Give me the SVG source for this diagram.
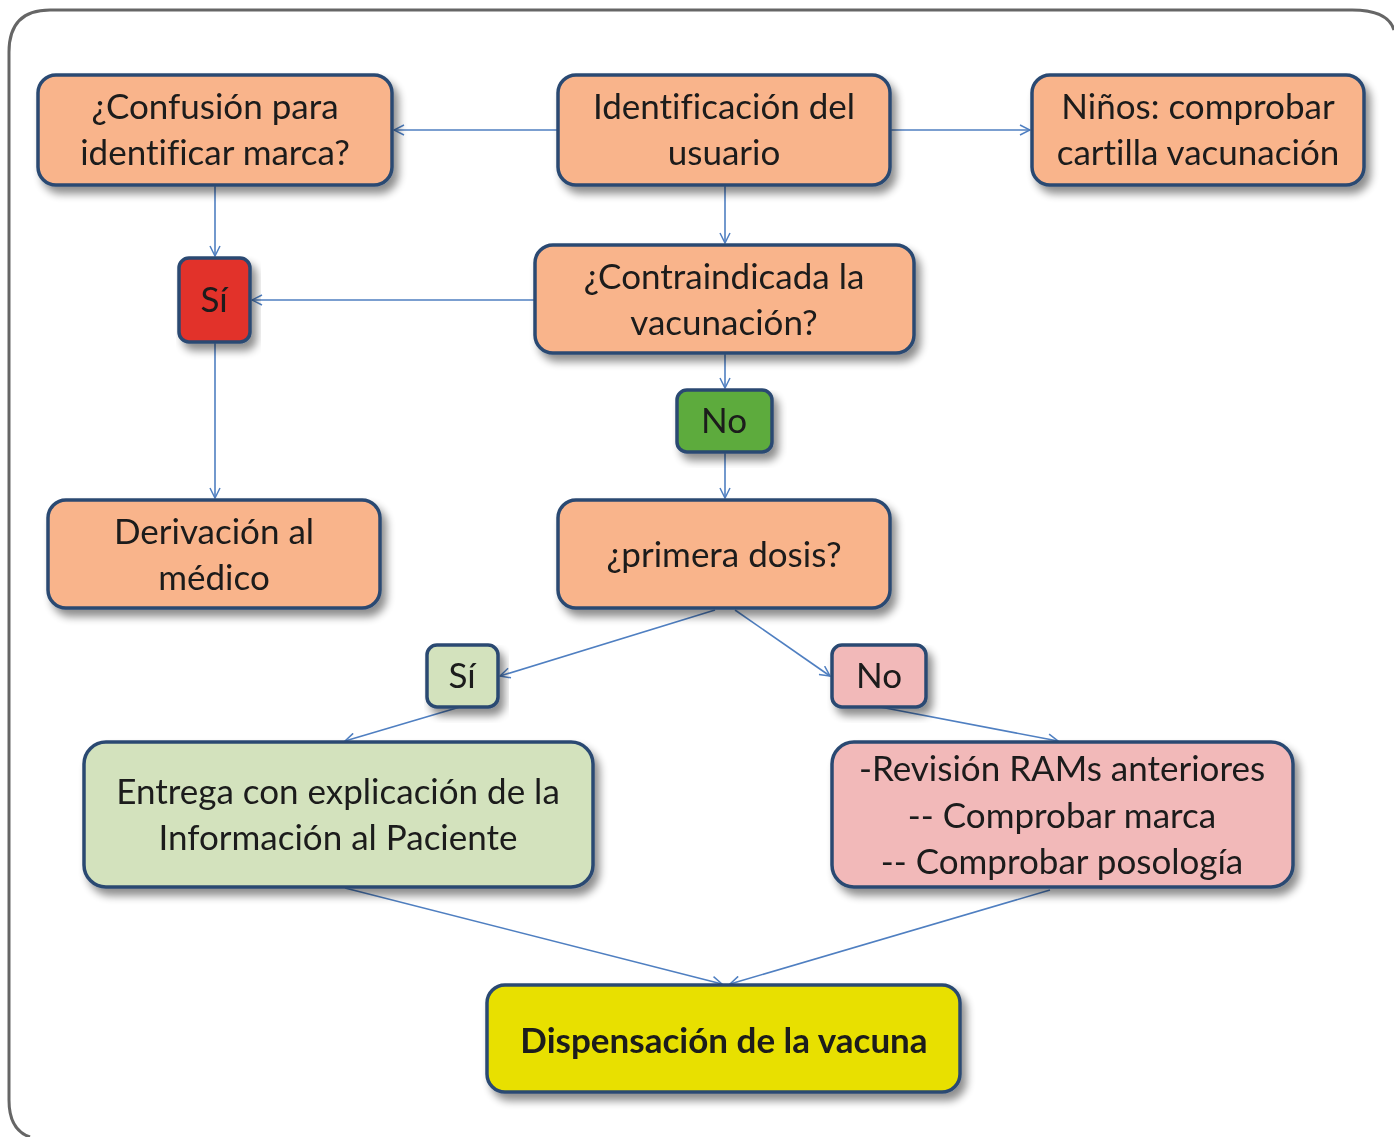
<svg xmlns="http://www.w3.org/2000/svg" width="1394" height="1137" viewBox="0 0 1394 1137">
<defs>
<style>
.t{font-family:Lato,"Open Sans","Liberation Sans",sans-serif;font-size:35px;fill:#1a1a1a;text-anchor:middle;font-variant-ligatures:none}
.b{stroke:#2b4a72;stroke-width:3.5}
.or{fill:#f9b48b}
.c{stroke:#4f7fc1;stroke-width:1.6;fill:none;marker-end:url(#ar)}
</style>
<marker id="ar" viewBox="0 0 12 12" refX="11" refY="6" markerWidth="12" markerHeight="12" markerUnits="userSpaceOnUse" orient="auto">
<path d="M1,1 L11,6 L1,11" fill="none" stroke="#4f7fc1" stroke-width="1.5"/>
</marker>
<filter id="sh" x="-10%" y="-10%" width="125%" height="135%">
<feGaussianBlur in="SourceAlpha" stdDeviation="4"/>
<feOffset dx="5" dy="7" result="o"/>
<feComponentTransfer><feFuncA type="linear" slope="0.45"/></feComponentTransfer>
<feMerge><feMergeNode/><feMergeNode in="SourceGraphic"/></feMerge>
</filter>
</defs>
<rect width="1394" height="1137" fill="#ffffff"/>
<path d="M30,1137 Q9,1130 9,1100 L9,52 Q9,10 50,10 L1352,10 Q1388,10 1394,30" fill="none" stroke="#666" stroke-width="3"/>

<g id="connectors">
<path class="c" d="M557,130 L394,130"/>
<path class="c" d="M890,130 L1030,130"/>
<path class="c" d="M725,185 L725,243"/>
<path class="c" d="M215,185 L215,256"/>
<path class="c" d="M535,300 L252,300"/>
<path class="c" d="M215,342 L215,498"/>
<path class="c" d="M725,353 L725,388"/>
<path class="c" d="M725,452 L725,498"/>
<path class="c" d="M715,610 L500,676"/>
<path class="c" d="M735,610 L830,676"/>
<path class="c" d="M460,707 L345,741"/>
<path class="c" d="M880,707 L1058,741"/>
<path class="c" d="M345,888 L722,984"/>
<path class="c" d="M1050,890 L730,984"/>
</g>

<g id="n-confusion" filter="url(#sh)">
<rect class="b or" x="38" y="75" width="354" height="110" rx="18"/>
<text class="t" x="215" y="119">¿Confusión para</text>
<text class="t" x="215" y="165">identificar marca?</text>
</g>
<g id="n-identificacion" filter="url(#sh)">
<rect class="b or" x="558" y="75" width="332" height="110" rx="18"/>
<text class="t" x="724" y="119">Identificación del</text>
<text class="t" x="724" y="165">usuario</text>
</g>
<g id="n-ninos" filter="url(#sh)">
<rect class="b or" x="1032" y="75" width="332" height="110" rx="18"/>
<text class="t" x="1198" y="119">Niños: comprobar</text>
<text class="t" x="1198" y="165">cartilla vacunación</text>
</g>
<g id="n-si-rojo" filter="url(#sh)">
<rect class="b" fill="#e2302a" x="179" y="258" width="71" height="84" rx="10"/>
<text class="t" x="214" y="312">Sí</text>
</g>
<g id="n-contraindicada" filter="url(#sh)">
<rect class="b or" x="535" y="245" width="379" height="108" rx="18"/>
<text class="t" x="724" y="289">¿Contraindicada la</text>
<text class="t" x="724" y="335">vacunación?</text>
</g>
<g id="n-no-verde" filter="url(#sh)">
<rect class="b" fill="#5dab3d" x="677" y="390" width="95" height="62" rx="10"/>
<text class="t" x="724" y="433">No</text>
</g>
<g id="n-derivacion" filter="url(#sh)">
<rect class="b or" x="48" y="500" width="332" height="108" rx="18"/>
<text class="t" x="214" y="544">Derivación al</text>
<text class="t" x="214" y="590">médico</text>
</g>
<g id="n-primera" filter="url(#sh)">
<rect class="b or" x="558" y="500" width="332" height="108" rx="18"/>
<text class="t" x="724" y="567">¿primera dosis?</text>
</g>
<g id="n-si-verde" filter="url(#sh)">
<rect class="b" fill="#d3e2bd" x="427" y="645" width="71" height="62" rx="10"/>
<text class="t" x="462" y="688">Sí</text>
</g>
<g id="n-no-rosa" filter="url(#sh)">
<rect class="b" fill="#f2b9b9" x="832" y="645" width="94" height="62" rx="10"/>
<text class="t" x="879" y="688">No</text>
</g>
<g id="n-entrega" filter="url(#sh)">
<rect class="b" fill="#d3e2bd" x="84" y="742" width="509" height="145" rx="22"/>
<text class="t" x="338" y="804">Entrega con explicación de la</text>
<text class="t" x="338" y="850">Información al Paciente</text>
</g>
<g id="n-revision" filter="url(#sh)">
<rect class="b" fill="#f2b9b9" x="832" y="742" width="461" height="145" rx="22"/>
<text class="t" x="1062" y="781">-Revisión RAMs anteriores</text>
<text class="t" x="1062" y="828">-- Comprobar marca</text>
<text class="t" x="1062" y="874">-- Comprobar posología</text>
</g>
<g id="n-dispensacion" filter="url(#sh)">
<rect class="b" fill="#e8e000" x="487" y="985" width="473" height="107" rx="18"/>
<text class="t" x="724" y="1053" font-weight="bold">Dispensación de la vacuna</text>
</g>
</svg>
